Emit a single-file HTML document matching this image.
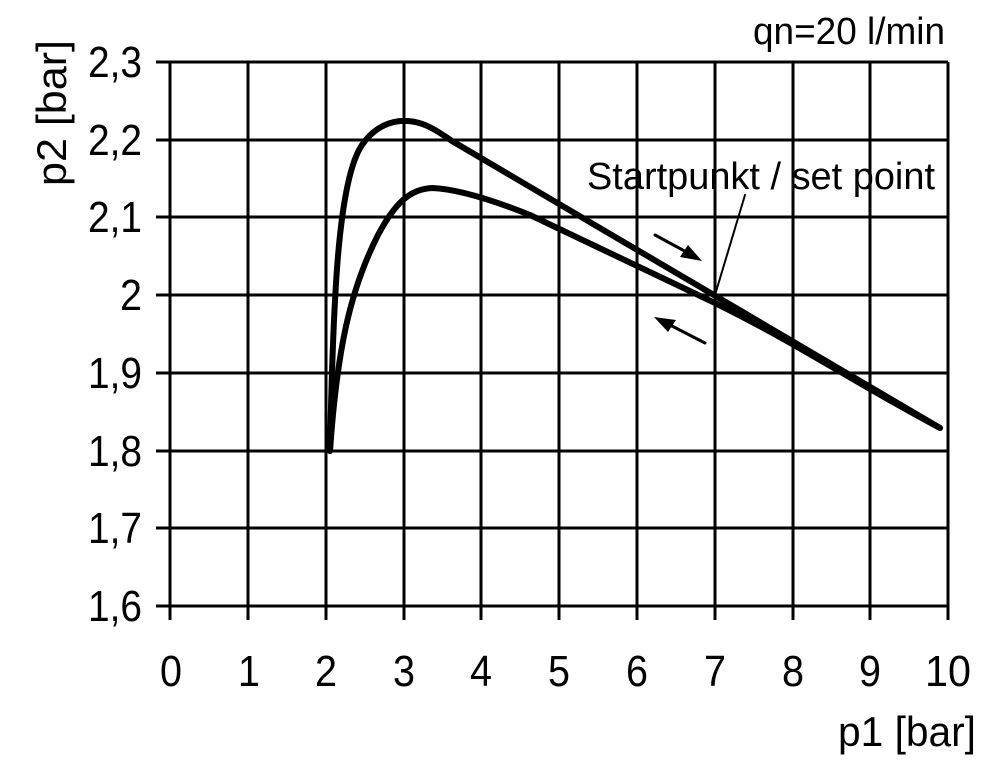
<!DOCTYPE html>
<html><head><style>
body{margin:0;background:#fff;}
svg text{font-family:"Liberation Sans",sans-serif;fill:#000;}
</style></head><body>
<svg width="1000" height="764" viewBox="0 0 1000 764">
<g stroke="#000" stroke-width="3">
<line x1="170" y1="62" x2="170" y2="620"/><line x1="248" y1="62" x2="248" y2="620"/><line x1="326" y1="62" x2="326" y2="620"/><line x1="404" y1="62" x2="404" y2="620"/><line x1="481" y1="62" x2="481" y2="620"/><line x1="559" y1="62" x2="559" y2="620"/><line x1="637" y1="62" x2="637" y2="620"/><line x1="715" y1="62" x2="715" y2="620"/><line x1="793" y1="62" x2="793" y2="620"/><line x1="870" y1="62" x2="870" y2="620"/><line x1="948" y1="62" x2="948" y2="620"/>
<line x1="156" y1="62" x2="948" y2="62"/><line x1="156" y1="140" x2="948" y2="140"/><line x1="156" y1="217" x2="948" y2="217"/><line x1="156" y1="295" x2="948" y2="295"/><line x1="156" y1="373" x2="948" y2="373"/><line x1="156" y1="451" x2="948" y2="451"/><line x1="156" y1="528" x2="948" y2="528"/><line x1="156" y1="606" x2="948" y2="606"/>
</g>
<g fill="none" stroke="#000" stroke-width="6" stroke-linejoin="round" stroke-linecap="round">
<path d="M330,451 C333,300 338,180 362,145 C375,126 392,120 408,121 C424,122 436,130 452,141 L940,428"/>
<path d="M330,451 C337,350 350,290 378,235 C395,203 410,189 432,188 C460,189 500,203 530,215 L715,303 C800,345 850,380 940,428"/>
<line x1="745" y1="195" x2="715" y2="295" stroke-width="2"/>
<line x1="655" y1="235" x2="690" y2="254" stroke-width="3"/>
<line x1="705" y1="343" x2="668" y2="324" stroke-width="3"/>
</g>
<polygon points="702,261 680,257 688,245" fill="#000"/>
<polygon points="654,317 676,320 668,332" fill="#000"/>
<g font-size="44" text-anchor="end">
<text x="142" y="77" textLength="54" lengthAdjust="spacingAndGlyphs">2,3</text>
<text x="142" y="155" textLength="54" lengthAdjust="spacingAndGlyphs">2,2</text>
<text x="142" y="232" textLength="54" lengthAdjust="spacingAndGlyphs">2,1</text>
<text x="142" y="310" textLength="22" lengthAdjust="spacingAndGlyphs">2</text>
<text x="142" y="388" textLength="54" lengthAdjust="spacingAndGlyphs">1,9</text>
<text x="142" y="466" textLength="54" lengthAdjust="spacingAndGlyphs">1,8</text>
<text x="142" y="543" textLength="54" lengthAdjust="spacingAndGlyphs">1,7</text>
<text x="142" y="621" textLength="54" lengthAdjust="spacingAndGlyphs">1,6</text>
</g>
<g font-size="44">
<text x="160" y="686" textLength="22" lengthAdjust="spacingAndGlyphs">0</text><text x="238" y="686" textLength="22" lengthAdjust="spacingAndGlyphs">1</text><text x="315" y="686" textLength="22" lengthAdjust="spacingAndGlyphs">2</text><text x="393" y="686" textLength="22" lengthAdjust="spacingAndGlyphs">3</text><text x="470" y="686" textLength="22" lengthAdjust="spacingAndGlyphs">4</text><text x="548" y="686" textLength="22" lengthAdjust="spacingAndGlyphs">5</text><text x="626" y="686" textLength="22" lengthAdjust="spacingAndGlyphs">6</text><text x="704" y="686" textLength="22" lengthAdjust="spacingAndGlyphs">7</text><text x="782" y="686" textLength="22" lengthAdjust="spacingAndGlyphs">8</text><text x="859" y="686" textLength="22" lengthAdjust="spacingAndGlyphs">9</text><text x="925" y="686" textLength="46" lengthAdjust="spacingAndGlyphs">10</text>
</g>
<text x="838" y="746" font-size="42" textLength="138" lengthAdjust="spacingAndGlyphs">p1 [bar]</text>
<text x="753" y="44" font-size="38" textLength="192" lengthAdjust="spacingAndGlyphs">qn=20 l/min</text>
<text x="587" y="189" font-size="38" textLength="348" lengthAdjust="spacingAndGlyphs">Startpunkt / set point</text>
<text transform="translate(66,186) rotate(-90)" font-size="42" textLength="146" lengthAdjust="spacingAndGlyphs">p2 [bar]</text>
</svg>
</body></html>
